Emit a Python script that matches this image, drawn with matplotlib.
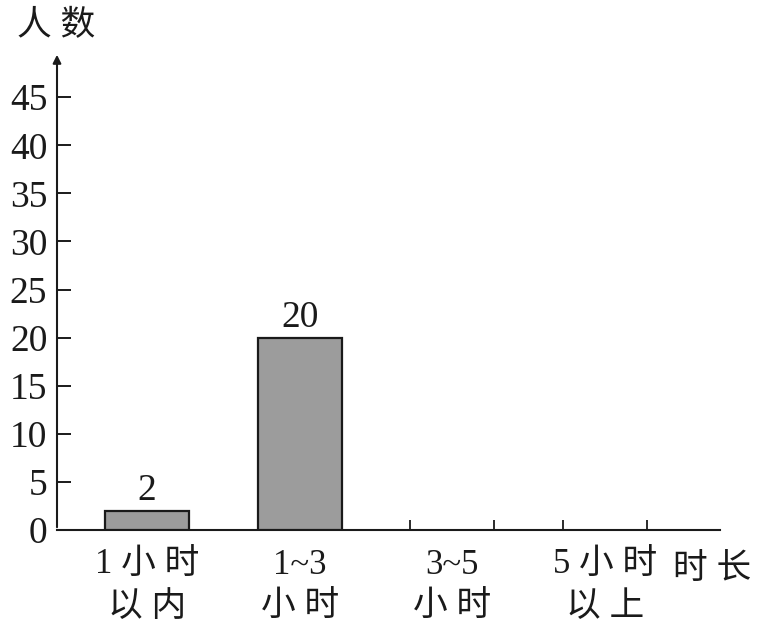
import numpy as np
import matplotlib.pyplot as plt

plt.rcParams['font.family'] = ['Liberation Serif', 'Noto Sans CJK SC']

categories = ["1 小 时\n以 内", "1~3\n小 时", "3~5\n小 时", "5 小 时\n以 上"]
counts = [2, 20, 0, 0]
shown_labels = {0: "2", 1: "20"}
yticks = list(range(0, 50, 5))

ink = "#1a1a1a"
fig = plt.figure(figsize=(7.59, 6.32), dpi=100)
ax = fig.add_axes([0.0751, 0.1614, 0.8735, 0.7563])

x = np.arange(len(categories))
width = 0.55
ax.bar(x[:2], counts[:2], width=width, color="#9c9c9c", edgecolor=ink, linewidth=1.6, zorder=3)

for i, txt in shown_labels.items():
    ax.annotate(txt, (x[i], counts[i]), xytext=(0, 2), textcoords="offset points",
                ha="center", va="bottom", fontsize=27, color=ink)

ax.set_xlim(-0.59, 3.754)
ax.set_ylim(0, 49.7)

for s in ["top", "right", "left"]:
    ax.spines[s].set_visible(False)
ax.spines["bottom"].set_color(ink)
ax.spines["bottom"].set_linewidth(1.5)

# y axis with arrow
ax.annotate("", xy=(0, 1.0), xytext=(0, 0), xycoords="axes fraction",
            arrowprops=dict(arrowstyle="-|>", color=ink, lw=1.5, mutation_scale=12))

ax.set_yticks(yticks)
ax.tick_params(axis="y", direction="in", length=10, width=1.4, color=ink,
               labelsize=27, labelcolor=ink, pad=7)

ax.set_xticks(x)
ax.set_xticklabels(categories, fontsize=25, color=ink, linespacing=1.35)
ax.tick_params(axis="x", length=0, pad=14)
edges = np.concatenate([x - width / 2, x + width / 2])
ax.set_xticks(edges, minor=True)
ax.tick_params(axis="x", which="minor", direction="in", length=7, width=1.3, color=ink)

ax.text(0.988, -0.083, "时 长", transform=ax.transAxes, ha="center", va="center",
        fontsize=25, color=ink)
fig.text(0.074, 0.958, "人 数", ha="center", va="center", fontsize=25, color=ink)

fig.savefig("out.png", dpi=100)
